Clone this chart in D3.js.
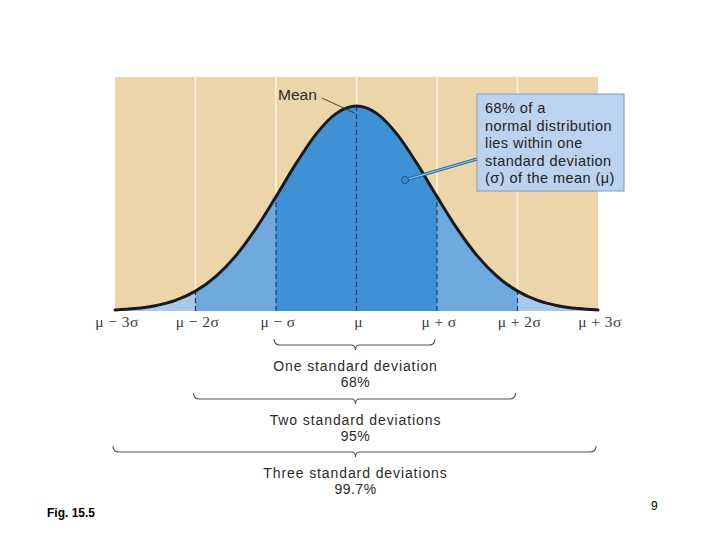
<!DOCTYPE html>
<html>
<head>
<meta charset="utf-8">
<script src="https://cdn.jsdelivr.net/npm/d3@7"></script>
<style>
  body { margin: 0; background: #fff; }
  svg { display: block; }
</style>
</head>
<body>
<svg id="chart" width="720" height="540"></svg>
<script>
// ── data ────────────────────────────────────────────────
const sigmaSteps  = [-3, -2, -1, 0, 1, 2, 3];
const sigmaLabels = ['μ − 3σ', 'μ − 2σ', 'μ − σ', 'μ', 'μ + σ', 'μ + 2σ', 'μ + 3σ'];

// curve height (relative to peak) every quarter sigma
const curveX = [-3, -2.75, -2.5, -2.25, -2, -1.75, -1.5, -1.25, -1, -0.75, -0.5, -0.25,
                 0, 0.25, 0.5, 0.75, 1, 1.25, 1.5, 1.75, 2, 2.25, 2.5, 2.75, 3];
const curveY = [0.005, 0.012, 0.026, 0.052, 0.097, 0.168, 0.269, 0.402, 0.558, 0.720, 0.864, 0.964,
                1, 0.964, 0.864, 0.720, 0.558, 0.402, 0.269, 0.168, 0.097, 0.052, 0.026, 0.012, 0.005];

const braceSpans    = [1, 2, 3];
const braceTitles   = ['One standard deviation', 'Two standard deviations', 'Three standard deviations'];
const bracePercents = ['68%', '95%', '99.7%'];

const calloutLines = ['68% of a', 'normal distribution', 'lies within one',
                      'standard deviation', '(σ) of the mean (μ)'];

// ── scales ──────────────────────────────────────────────
const svg = d3.select('#chart');
const x = d3.scaleLinear().domain([-3, 3]).range([115, 598]);
const y = d3.scaleLinear().domain([0, 1]).range([311, 106]);
const pts = curveX.map((v, i) => [v, curveY[i]]);
const heightAt = s => curveY[curveX.indexOf(s)];

const SANS  = "'Liberation Sans', Arial, sans-serif";
const SERIF = "'Liberation Serif', 'Times New Roman', serif";

// background panel
svg.append('rect')
  .attr('x', x(-3)).attr('y', 77)
  .attr('width', x(3) - x(-3)).attr('height', y(0) - 77)
  .attr('fill', '#ebd5a9');

// white grid lines above the curve
svg.selectAll('.grid').data(sigmaSteps.filter(s => Math.abs(s) < 3)).enter()
  .append('line')
  .attr('x1', d => x(d)).attr('x2', d => x(d))
  .attr('y1', 77).attr('y2', d => y(heightAt(d)))
  .attr('stroke', '#fbf3e4').attr('stroke-width', 1.5);

// filled bands
const area = d3.area().curve(d3.curveMonotoneX)
  .x(d => x(d[0])).y0(y(0)).y1(d => y(d[1]));
const bandFill = ['#a9c9ec', '#6fa9de', '#4090d5'];
[3, 2, 1].forEach(k => {
  svg.append('clipPath').attr('id', 'band' + k)
    .append('rect')
    .attr('x', x(-k)).attr('y', 0)
    .attr('width', x(k) - x(-k)).attr('height', 540);
  svg.append('path').datum(pts)
    .attr('d', area)
    .attr('fill', bandFill[3 - k])
    .attr('clip-path', `url(#band${k})`);
});

// dashed sigma lines under the curve
svg.selectAll('.dash').data(sigmaSteps.filter(s => Math.abs(s) < 3)).enter()
  .append('line')
  .attr('x1', d => x(d)).attr('x2', d => x(d))
  .attr('y1', y(0)).attr('y2', d => y(heightAt(d)))
  .attr('stroke', '#1d3b66').attr('stroke-width', 1.2)
  .attr('stroke-dasharray', '5,3');

// the curve
const line = d3.line().curve(d3.curveMonotoneX).x(d => x(d[0])).y(d => y(d[1]));
svg.append('path').datum(pts)
  .attr('d', line)
  .attr('fill', 'none')
  .attr('stroke', '#1a1a1a').attr('stroke-width', 3)
  .attr('stroke-linecap', 'round');

// sigma labels
svg.selectAll('.lab').data(sigmaSteps).enter()
  .append('text')
  .attr('x', d => x(d) + 2).attr('y', 327)
  .attr('text-anchor', 'middle')
  .attr('font-family', SERIF).attr('font-size', 15.5)
  .attr('letter-spacing', 0.4)
  .attr('fill', '#3a3a3a')
  .text((d, i) => sigmaLabels[i]);

// braces
const braceY = [345, 399, 452];
braceSpans.forEach((k, i) => {
  const x0 = x(-k) - 2, x1 = x(k) - 2, xm = x(0) - 1, by = braceY[i];
  const p = `M${x0},${by - 6} Q${x0},${by} ${x0 + 6},${by} L${xm - 4},${by} ` +
            `Q${xm},${by} ${xm},${by + 5} Q${xm},${by} ${xm + 4},${by} ` +
            `L${x1 - 6},${by} Q${x1},${by} ${x1},${by - 6}`;
  svg.append('path').attr('d', p)
    .attr('fill', 'none').attr('stroke', '#555').attr('stroke-width', 1.1);
  svg.append('text')
    .attr('x', xm).attr('y', by + 26)
    .attr('text-anchor', 'middle')
    .attr('font-family', SANS).attr('font-size', 14)
    .attr('letter-spacing', 0.9)
    .attr('fill', '#2b2b2b')
    .text(braceTitles[i]);
  svg.append('text')
    .attr('x', xm).attr('y', by + 42)
    .attr('text-anchor', 'middle')
    .attr('font-family', SANS).attr('font-size', 14)
    .attr('letter-spacing', 0.5)
    .attr('fill', '#2b2b2b')
    .text(bracePercents[i]);
});

// "Mean" label and leader
svg.append('text')
  .attr('x', 278).attr('y', 100)
  .attr('font-family', SANS).attr('font-size', 15.5)
  .attr('fill', '#2b2b2b')
  .text('Mean');
svg.append('line')
  .attr('x1', 322).attr('y1', 98).attr('x2', x(0) - 2).attr('y2', 113)
  .attr('stroke', '#333').attr('stroke-width', 0.9);

// callout box
const box = { x: 477, y: 94, w: 147, h: 97 };
svg.append('line')
  .attr('x1', 405).attr('y1', 180).attr('x2', box.x).attr('y2', 159)
  .attr('stroke', '#2467a6').attr('stroke-width', 3.2);
svg.append('line')
  .attr('x1', 405).attr('y1', 180).attr('x2', box.x).attr('y2', 159)
  .attr('stroke', '#9fcbf0').attr('stroke-width', 1.1);
svg.append('circle')
  .attr('cx', 405).attr('cy', 180).attr('r', 3.5)
  .attr('fill', '#3b8bd2').attr('stroke', '#1c5a96').attr('stroke-width', 1);
svg.append('rect')
  .attr('x', box.x).attr('y', box.y).attr('width', box.w).attr('height', box.h)
  .attr('fill', '#bcd3ef').attr('stroke', '#7d9cc3').attr('stroke-width', 1);
svg.selectAll('.call').data(calloutLines).enter()
  .append('text')
  .attr('x', box.x + 8).attr('y', (d, i) => box.y + 19 + i * 17.5)
  .attr('font-family', SANS).attr('font-size', 14.5)
  .attr('letter-spacing', 0.45)
  .attr('fill', '#222')
  .text(d => d);

// footer texts
svg.append('text')
  .attr('x', 47).attr('y', 517)
  .attr('font-family', SANS).attr('font-size', 12).attr('font-weight', 'bold')
  .attr('fill', '#000')
  .text('Fig. 15.5');
svg.append('text')
  .attr('x', 651).attr('y', 510)
  .attr('font-family', SANS).attr('font-size', 12)
  .attr('fill', '#000')
  .text('9');
</script>
</body>
</html>
